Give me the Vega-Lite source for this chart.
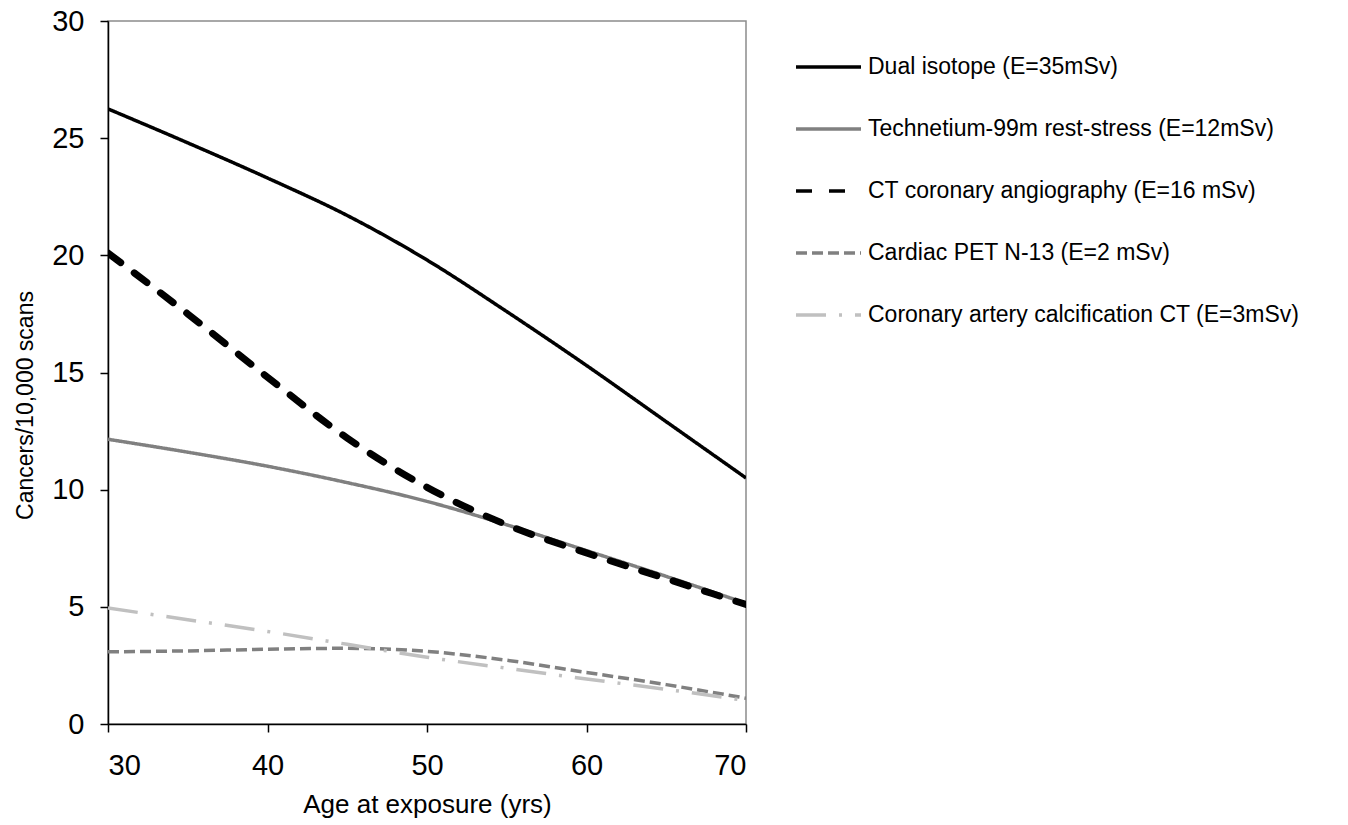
{
  "$schema": "https://vega.github.io/schema/vega-lite/v6.json",
  "width": 638,
  "height": 703,
  "autosize": {"type": "none"},
  "padding": {"left": 108, "top": 21, "right": 602, "bottom": 101},
  "background": "white",
  "config": {
    "font": "Liberation Sans",
    "view": {"stroke": "#8c8c8c", "strokeWidth": 1.5},
    "axis": {"grid": false, "domainColor": "black", "tickColor": "black", "domainWidth": 1.5, "tickWidth": 1.5, "labelColor": "black", "titleColor": "black", "labelFont": "Liberation Sans", "titleFont": "Liberation Sans", "titleFontWeight": "normal"}
  },
  "data": {
    "values": [
      {"age": 30, "value": 26.25, "series": "Dual isotope (E=35mSv)"},
      {"age": 35, "value": 24.8, "series": "Dual isotope (E=35mSv)"},
      {"age": 40, "value": 23.3, "series": "Dual isotope (E=35mSv)"},
      {"age": 45, "value": 21.7, "series": "Dual isotope (E=35mSv)"},
      {"age": 50, "value": 19.8, "series": "Dual isotope (E=35mSv)"},
      {"age": 55, "value": 17.6, "series": "Dual isotope (E=35mSv)"},
      {"age": 60, "value": 15.3, "series": "Dual isotope (E=35mSv)"},
      {"age": 65, "value": 12.9, "series": "Dual isotope (E=35mSv)"},
      {"age": 70, "value": 10.5, "series": "Dual isotope (E=35mSv)"},
      {"age": 30, "value": 12.15, "series": "Technetium-99m rest-stress (E=12mSv)"},
      {"age": 35, "value": 11.6, "series": "Technetium-99m rest-stress (E=12mSv)"},
      {"age": 40, "value": 11.0, "series": "Technetium-99m rest-stress (E=12mSv)"},
      {"age": 45, "value": 10.3, "series": "Technetium-99m rest-stress (E=12mSv)"},
      {"age": 50, "value": 9.5, "series": "Technetium-99m rest-stress (E=12mSv)"},
      {"age": 55, "value": 8.5, "series": "Technetium-99m rest-stress (E=12mSv)"},
      {"age": 60, "value": 7.4, "series": "Technetium-99m rest-stress (E=12mSv)"},
      {"age": 65, "value": 6.3, "series": "Technetium-99m rest-stress (E=12mSv)"},
      {"age": 70, "value": 5.15, "series": "Technetium-99m rest-stress (E=12mSv)"},
      {"age": 30, "value": 20.1, "series": "CT coronary angiography (E=16 mSv)"},
      {"age": 35, "value": 17.5, "series": "CT coronary angiography (E=16 mSv)"},
      {"age": 40, "value": 14.8, "series": "CT coronary angiography (E=16 mSv)"},
      {"age": 45, "value": 12.2, "series": "CT coronary angiography (E=16 mSv)"},
      {"age": 50, "value": 10.1, "series": "CT coronary angiography (E=16 mSv)"},
      {"age": 55, "value": 8.5, "series": "CT coronary angiography (E=16 mSv)"},
      {"age": 60, "value": 7.3, "series": "CT coronary angiography (E=16 mSv)"},
      {"age": 65, "value": 6.2, "series": "CT coronary angiography (E=16 mSv)"},
      {"age": 70, "value": 5.1, "series": "CT coronary angiography (E=16 mSv)"},
      {"age": 30, "value": 3.08, "series": "Cardiac PET N-13 (E=2 mSv)"},
      {"age": 35, "value": 3.12, "series": "Cardiac PET N-13 (E=2 mSv)"},
      {"age": 40, "value": 3.19, "series": "Cardiac PET N-13 (E=2 mSv)"},
      {"age": 45, "value": 3.23, "series": "Cardiac PET N-13 (E=2 mSv)"},
      {"age": 50, "value": 3.1, "series": "Cardiac PET N-13 (E=2 mSv)"},
      {"age": 55, "value": 2.72, "series": "Cardiac PET N-13 (E=2 mSv)"},
      {"age": 60, "value": 2.2, "series": "Cardiac PET N-13 (E=2 mSv)"},
      {"age": 65, "value": 1.68, "series": "Cardiac PET N-13 (E=2 mSv)"},
      {"age": 70, "value": 1.1, "series": "Cardiac PET N-13 (E=2 mSv)"},
      {"age": 30, "value": 4.95, "series": "Coronary artery calcification CT (E=3mSv)"},
      {"age": 35, "value": 4.45, "series": "Coronary artery calcification CT (E=3mSv)"},
      {"age": 40, "value": 3.95, "series": "Coronary artery calcification CT (E=3mSv)"},
      {"age": 45, "value": 3.4, "series": "Coronary artery calcification CT (E=3mSv)"},
      {"age": 50, "value": 2.85, "series": "Coronary artery calcification CT (E=3mSv)"},
      {"age": 55, "value": 2.38, "series": "Coronary artery calcification CT (E=3mSv)"},
      {"age": 60, "value": 1.92, "series": "Coronary artery calcification CT (E=3mSv)"},
      {"age": 65, "value": 1.48, "series": "Coronary artery calcification CT (E=3mSv)"},
      {"age": 70, "value": 1.0, "series": "Coronary artery calcification CT (E=3mSv)"}
    ]
  },
  "encoding": {
    "x": {
      "field": "age", "type": "quantitative",
      "scale": {"domain": [30, 70], "nice": false, "zero": false},
      "axis": {"values": [30, 40, 50, 60, 70], "title": "Age at exposure (yrs)", "labelFontSize": 29, "titleFontSize": 26, "tickSize": 8, "labelPadding": 19, "titlePadding": 11}
    },
    "y": {
      "field": "value", "type": "quantitative",
      "scale": {"domain": [0, 30], "nice": false},
      "axis": {"values": [0, 5, 10, 15, 20, 25, 30], "title": "Cancers/10,000  scans", "labelFontSize": 29, "titleFontSize": 23, "tickSize": 8, "labelPadding": 16, "titlePadding": 14, "titleY": 384}
    },
    "color": {
      "field": "series", "type": "nominal",
      "sort": ["Dual isotope (E=35mSv)", "Technetium-99m rest-stress (E=12mSv)", "CT coronary angiography (E=16 mSv)", "Cardiac PET N-13 (E=2 mSv)", "Coronary artery calcification CT (E=3mSv)"],
      "scale": {
        "domain": ["Dual isotope (E=35mSv)", "Technetium-99m rest-stress (E=12mSv)", "CT coronary angiography (E=16 mSv)", "Cardiac PET N-13 (E=2 mSv)", "Coronary artery calcification CT (E=3mSv)"],
        "range": ["#000000", "#808080", "#000000", "#808080", "#c0c0c0"]
      },
      "legend": {
        "title": null, "orient": "none", "legendX": 686, "legendY": 36,
        "symbolType": "stroke", "symbolSize": 4225, "symbolStrokeWidth": 3.5,
        "labelFontSize": 23, "labelColor": "black", "labelLimit": 700, "labelOffset": 5,
        "clipHeight": 20, "rowPadding": 39
      }
    },
    "strokeDash": {
      "field": "series", "type": "nominal",
      "sort": ["Dual isotope (E=35mSv)", "Technetium-99m rest-stress (E=12mSv)", "CT coronary angiography (E=16 mSv)", "Cardiac PET N-13 (E=2 mSv)", "Coronary artery calcification CT (E=3mSv)"],
      "scale": {
        "domain": ["Dual isotope (E=35mSv)", "Technetium-99m rest-stress (E=12mSv)", "CT coronary angiography (E=16 mSv)", "Cardiac PET N-13 (E=2 mSv)", "Coronary artery calcification CT (E=3mSv)"],
        "range": [[1, 0], [1, 0], [16, 17], [11, 5], [30, 13, 3, 13]]
      },
      "legend": {
        "title": null, "orient": "none", "legendX": 686, "legendY": 36,
        "symbolType": "stroke", "symbolSize": 4225, "symbolStrokeWidth": 3.5,
        "labelFontSize": 23, "labelColor": "black", "labelLimit": 700, "labelOffset": 5,
        "clipHeight": 20, "rowPadding": 39
      }
    }
  },
  "layer": [
    {
      "transform": [{"filter": "datum.series !== 'CT coronary angiography (E=16 mSv)'"}],
      "mark": {"type": "line", "interpolate": "monotone", "clip": true, "strokeWidth": 3.5}
    },
    {
      "transform": [{"filter": "datum.series === 'CT coronary angiography (E=16 mSv)'"}],
      "mark": {"type": "line", "interpolate": "monotone", "clip": true, "strokeWidth": 7, "strokeCap": "round"}
    }
  ]
}
